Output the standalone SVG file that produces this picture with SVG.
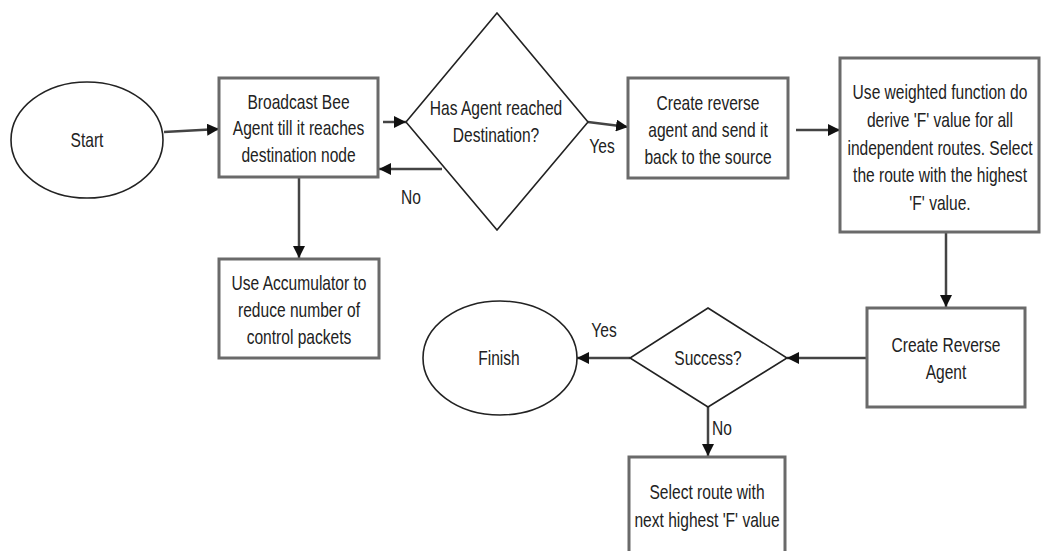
<svg xmlns="http://www.w3.org/2000/svg" width="1041" height="551" viewBox="0 0 1041 551">
<style>
.t{font-family:"Liberation Sans",Arial,sans-serif;font-size:20.5px;fill:#222;text-anchor:middle}
.box{fill:#fff;stroke:#6a6a6a;stroke-width:3}
.term{fill:#fff;stroke:#222;stroke-width:1.6}
.dec{fill:#fff;stroke:#222;stroke-width:1.6}
.c{fill:none;stroke:#444;stroke-width:2.5;marker-end:url(#ah)}
</style>
<defs>
<marker id="ah" markerUnits="userSpaceOnUse" markerWidth="12" markerHeight="12" refX="12" refY="6" orient="auto">
<path d="M0,0 L12,6 L0,12 z" fill="#111"/>
</marker>
</defs>
<rect width="1041" height="551" fill="#fff"/>
<g id="connectors">
<line class="c" x1="164" y1="132" x2="219" y2="129"/>
<line class="c" x1="383" y1="122" x2="406" y2="122"/>
<line class="c" x1="442" y1="169" x2="379" y2="169"/>
<line class="c" x1="588" y1="122" x2="628" y2="127"/>
<line class="c" x1="796" y1="130" x2="840" y2="130"/>
<line class="c" x1="299" y1="178" x2="299" y2="258"/>
<line class="c" x1="946" y1="233" x2="946" y2="307"/>
<line class="c" x1="866" y1="358" x2="787" y2="358"/>
<line class="c" x1="630" y1="358" x2="577" y2="358"/>
<line class="c" x1="708" y1="407" x2="708" y2="456"/>
<text class="t" transform="translate(411 0) scale(0.76 1)" y="204">No</text>
<text class="t" transform="translate(602 0) scale(0.76 1)" y="153">Yes</text>
<text class="t" transform="translate(604 0) scale(0.76 1)" y="337">Yes</text>
<text class="t" transform="translate(722 0) scale(0.76 1)" y="435">No</text>
</g>
<g id="start">
<ellipse class="term" cx="87" cy="140" rx="76" ry="58"/>
<text class="t" transform="translate(87 0) scale(0.76 1)" y="147">Start</text>
</g>
<g id="broadcast">
<rect class="box" x="219" y="78" width="159" height="99"/>
<text class="t" transform="translate(298.5 0) scale(0.76 1)"><tspan x="0" y="109">Broadcast Bee</tspan><tspan x="0" y="135">Agent till it reaches</tspan><tspan x="0" y="162">destination node</tspan></text>
</g>
<g id="accumulator">
<rect class="box" x="219" y="259" width="160" height="99"/>
<text class="t" transform="translate(299 0) scale(0.76 1)"><tspan x="0" y="290">Use Accumulator to</tspan><tspan x="0" y="317">reduce number of</tspan><tspan x="0" y="344">control packets</tspan></text>
</g>
<g id="decision1">
<polygon class="dec" points="497,13 588,122 497,230 406,122"/>
<text class="t" transform="translate(496 0) scale(0.76 1)"><tspan x="0" y="115">Has Agent reached</tspan><tspan x="0" y="142">Destination?</tspan></text>
</g>
<g id="createReverse">
<rect class="box" x="628" y="78" width="160" height="100"/>
<text class="t" transform="translate(708 0) scale(0.76 1)"><tspan x="0" y="110">Create reverse</tspan><tspan x="0" y="137">agent and send it</tspan><tspan x="0" y="164">back to the source</tspan></text>
</g>
<g id="weighted">
<rect class="box" x="840" y="58" width="199" height="174"/>
<text class="t" transform="translate(940 0) scale(0.76 1)"><tspan x="0" y="99">Use weighted function do</tspan><tspan x="0" y="127">derive 'F' value for all</tspan><tspan x="0" y="155">independent routes. Select</tspan><tspan x="0" y="182">the route with the highest</tspan><tspan x="0" y="210">'F' value.</tspan></text>
</g>
<g id="createAgent">
<rect class="box" x="867" y="308" width="158" height="99"/>
<text class="t" transform="translate(946 0) scale(0.76 1)"><tspan x="0" y="352">Create Reverse</tspan><tspan x="0" y="379">Agent</tspan></text>
</g>
<g id="success">
<polygon class="dec" points="708,308 787,358 708,407 630,358"/>
<text class="t" transform="translate(708 0) scale(0.76 1)" y="365">Success?</text>
</g>
<g id="finish">
<ellipse class="term" cx="500" cy="358" rx="77" ry="57"/>
<text class="t" transform="translate(499 0) scale(0.76 1)" y="365">Finish</text>
</g>
<g id="select">
<rect class="box" x="629" y="457" width="156" height="100"/>
<text class="t" transform="translate(707 0) scale(0.76 1)"><tspan x="0" y="499">Select route with</tspan><tspan x="0" y="527">next highest 'F' value</tspan></text>
</g>
</svg>
